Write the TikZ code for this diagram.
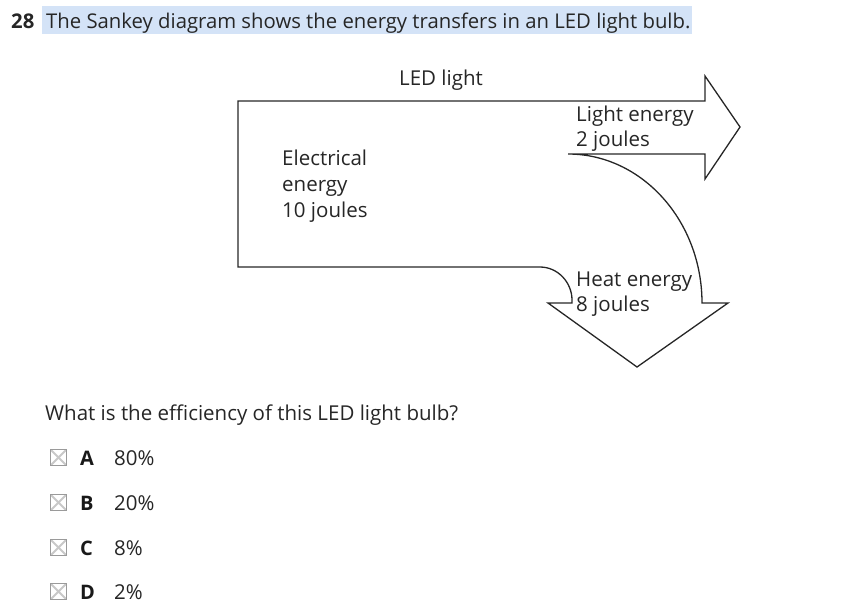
\documentclass[tikz,border=0pt]{standalone}
\usepackage{fontspec}
\setmainfont{Open Sans}
\definecolor{ink}{HTML}{262626}
\definecolor{hl}{HTML}{D4E3F7}
\definecolor{boxgrey}{HTML}{9A9A9A}
\definecolor{xgrey}{HTML}{C8C8C8}
\begin{document}
\begin{tikzpicture}[x=1pt,y=-1pt,
  txt/.style={inner sep=0pt,anchor=base west,text=ink,font=\fontsize{20.5}{24}\selectfont},
  ttl/.style={inner sep=0pt,anchor=base west,text=ink,font=\fontsize{20.3}{24}\selectfont},
  opt/.style={inner sep=0pt,anchor=base west,text=ink,font=\fontsize{20.5}{24}\selectfont},
  letter/.style={inner sep=0pt,anchor=base west,text=black!90,font=\fontsize{20}{24}\selectfont\bfseries},
  outline/.style={draw=ink,line width=1.3pt,line join=miter},
  cbox/.style={draw=boxgrey,line width=1.2pt,minimum size=16pt,inner sep=0pt,
    path picture={\draw[xgrey,line width=2pt] (path picture bounding box.north west) -- (path picture bounding box.south east)
      (path picture bounding box.north east) -- (path picture bounding box.south west);}}]
\useasboundingbox (0,0) rectangle (848,614);
% title
\fill[hl] (42,6) rectangle (692,34);
\node[ttl,font=\fontsize{20.3}{24}\selectfont\bfseries] (num) at (11,28) {28};
\node[ttl] (title) at (46,28) {The Sankey diagram shows the energy transfers in an LED light bulb.};
% sankey outline
\draw[outline] (238,101) -- (705,101) -- (705,76) -- (740,127) -- (705,179) -- (705,154) -- (568,154)
  .. controls (642,154) and (702,221) .. (702,303) -- (728,303) -- (637,367) -- (548,303) -- (572,303)
  -- (572,300) .. controls (572,282.3) and (557.7,267) .. (540,267) -- (238,267) -- cycle;
% labels
\node[txt,anchor=base] (led) at (441,85) {LED light};
\node[txt] (light1) at (576,121) {Light energy};
\node[txt] (light2) at (576,146) {2 joules};
\node[txt] (el1) at (282,165) {Electrical};
\node[txt] (el2) at (282,191) {energy};
\node[txt] (el3) at (282,217) {10 joules};
\node[txt] (heat1) at (576,286) {Heat energy};
\node[txt] (heat2) at (576,311) {8 joules};
% question
\node[txt] (q) at (45,420) {What is the efficiency of this LED light bulb?};
\node[cbox] (ba) at (58.5,457.5) {};
\node[cbox] (bb) at (58.5,502.5) {};
\node[cbox] (bc) at (58.5,547.5) {};
\node[cbox] (bd) at (58.5,591.5) {};
\node[letter] (la) at (80,465) {A};
\node[letter] (lb) at (80,510) {B};
\node[letter] (lc) at (80,555) {C};
\node[letter] (ld) at (80,599) {D};
\node[opt] (oa) at (114,465) {80\%};
\node[opt] (ob) at (114,510) {20\%};
\node[opt] (oc) at (114,555) {8\%};
\node[opt] (od) at (114,599) {2\%};
\end{tikzpicture}
\end{document}
